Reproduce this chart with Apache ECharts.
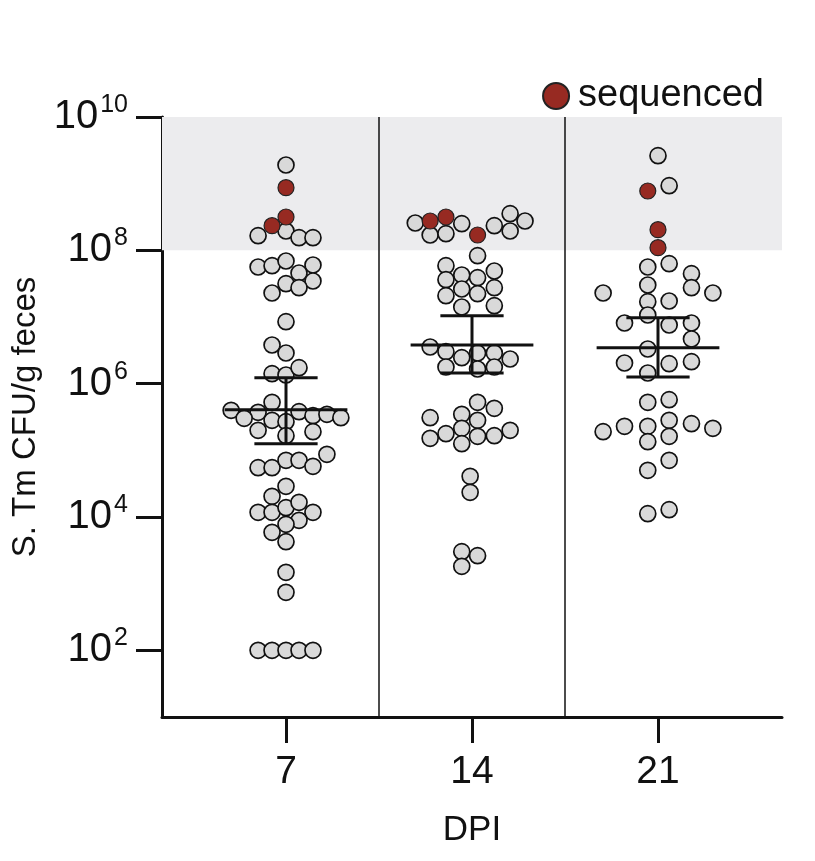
<!DOCTYPE html>
<html><head><meta charset="utf-8">
<script src="https://cdn.jsdelivr.net/npm/echarts@6/dist/echarts.min.js"></script>
<style>html,body{margin:0;padding:0;background:#fff}#c{width:815px;height:861px}</style>
</head><body><div id="c"></div>
<script>
const categories = ['7', '14', '21'];
// points: [jitter (category units), log10 CFU]
const grey7 = [[0,9.28],[-0.15,8.22],[0,8.29],[0.07,8.19],[0.145,8.19],
 [-0.15,7.75],[-0.075,7.77],[0,7.84],[0.145,7.78],[0.07,7.66],[0.145,7.54],[0,7.50],[0.07,7.44],[-0.075,7.36],
 [0,6.93],[-0.075,6.58],[0,6.46],[-0.075,6.15],[0,6.13],[0.07,6.24],[-0.075,5.72],
 [-0.295,5.60],[-0.15,5.57],[0.07,5.58],[-0.225,5.48],[-0.075,5.45],[0,5.43],[0.145,5.52],[0.22,5.54],[0.295,5.49],[-0.15,5.30],[0.145,5.28],[0,5.22],
 [-0.15,4.74],[-0.075,4.74],[0,4.85],[0.07,4.85],[0.145,4.76],[0.22,4.94],[0,4.46],[-0.075,4.31],
 [-0.15,4.07],[-0.075,4.07],[0,4.14],[0.07,4.22],[0.145,4.07],[0.07,3.95],[0,3.89],[-0.075,3.77],[0,3.63],
 [0,3.17],[0,2.87],[-0.15,2.0],[-0.075,2.0],[0,2.0],[0.07,2.0],[0.145,2.0]];
const red7 = [[0,8.94],[0,8.50],[-0.075,8.37]];
const grey14 = [[-0.305,8.41],[-0.225,8.23],[-0.14,8.25],[-0.055,8.40],[0.12,8.37],[0.205,8.55],[0.205,8.29],[0.285,8.44],
 [0.03,7.92],[-0.14,7.77],[-0.055,7.63],[0.03,7.59],[0.12,7.69],[-0.14,7.56],[-0.055,7.42],[0.12,7.44],[-0.14,7.32],[0.03,7.35],[-0.055,7.15],[0.12,7.17],
 [-0.225,6.55],[-0.14,6.48],[-0.055,6.39],[0.03,6.46],[0.12,6.46],[0.205,6.37],[-0.14,6.25],[0.03,6.22],[0.12,6.25],
 [0.03,5.72],[0.12,5.63],[-0.225,5.49],[-0.055,5.54],[0.03,5.45],[-0.055,5.33],[-0.225,5.18],[-0.14,5.25],[0.03,5.21],[0.12,5.22],[0.205,5.30],[-0.055,5.10],
 [-0.01,4.61],[-0.01,4.37],[-0.055,3.48],[0.03,3.42],[-0.055,3.26]];
const red14 = [[-0.225,8.44],[-0.14,8.50],[0.03,8.23]];
const grey21 = [[0,9.42],[0.06,8.97],
 [-0.055,7.75],[0.06,7.80],[0.18,7.65],[-0.055,7.48],[0.18,7.44],[-0.295,7.36],[0.295,7.36],[-0.055,7.23],[0.06,7.24],[-0.055,7.03],[-0.18,6.91],[0.06,6.88],[0.18,6.91],[0.18,6.67],[-0.055,6.52],[-0.18,6.31],[0.06,6.30],[0.18,6.33],[-0.055,6.16],
 [-0.055,5.72],[0.06,5.76],[-0.295,5.28],[-0.18,5.36],[-0.055,5.36],[0.06,5.45],[0.18,5.40],[0.295,5.33],[-0.055,5.13],[0.06,5.21],[0.06,4.85],[-0.055,4.70],
 [-0.055,4.05],[0.06,4.11]];
const red21 = [[-0.055,8.89],[0,8.31],[0,8.04]];
// mean and error range (log10)
const means = [5.61, 6.58, 6.54];
const errLow = [5.10, 6.16, 6.10];
const errHigh = [6.09, 7.02, 6.99];
const yTicks = [2, 4, 6, 8, 10];

const greys = [grey7, grey14, grey21];
const reds = [red7, red14, red21];
const toXY = (arr, i) => arr.map(p => [i + 1 + p[0], p[1]]);
const greyData = [].concat(...greys.map(toXY));
const redData = [].concat(...reds.map(toXY));
const meanData = means.map((m, i) => [i + 1, m, errLow[i], errHigh[i]]);

const font = 'Liberation Sans, Arial, sans-serif';
const chart = echarts.init(document.getElementById('c'));
chart.setOption({
  animation: false,
  grid: {left: 162, right: 33, top: 117, bottom: 144},
  legend: {data: [{name: 'sequenced'}], top: 72, right: 46, icon: 'circle', itemWidth: 26, itemHeight: 26, itemGap: 10,
    textStyle: {fontSize: 38, fontFamily: font, color: '#111', padding: [0, 0, 0, 4]}},
  xAxis: {type: 'value', min: 1/3, max: 11/3,
    name: 'DPI', nameLocation: 'middle', nameGap: 96, nameTextStyle: {fontSize: 35, fontFamily: font, color: '#111'},
    axisLine: {lineStyle: {color: '#111', width: 3}},
    axisTick: {customValues: [1, 2, 3], length: 26, lineStyle: {width: 3, color: '#111'}},
    axisLabel: {customValues: [1, 2, 3], margin: 36, fontSize: 39, fontFamily: font, color: '#111',
      formatter: v => categories[Math.round(v) - 1]},
    splitLine: {show: false}},
  yAxis: {type: 'value', min: 1, max: 10,
    name: 'S. Tm CFU/g feces', nameLocation: 'middle', nameGap: 116, nameTextStyle: {fontSize: 33, fontFamily: font, color: '#111'},
    axisLine: {lineStyle: {color: '#111', width: 3}},
    axisTick: {customValues: yTicks, length: 26, lineStyle: {width: 3, color: '#111'}},
    axisLabel: {customValues: yTicks, margin: 34, fontFamily: font, color: '#111',
      formatter: v => '{b|10}{s|' + v + '}',
      rich: {b: {fontSize: 40, fontFamily: font, color: '#111'}, s: {fontSize: 25, fontFamily: font, color: '#111', verticalAlign: 'top', padding: [0, 0, 24, 2]}}},
    splitLine: {show: false}},
  series: [
    {type: 'scatter', name: 'all', data: greyData, symbolSize: 16, z: 3,
      itemStyle: {color: '#d9d9d9', borderColor: '#111', borderWidth: 1.7, opacity: 1},
      markArea: {silent: true, itemStyle: {color: '#ececee'}, data: [[{yAxis: 8}, {yAxis: 10}]]},
      markLine: {silent: true, symbol: 'none', label: {show: false}, lineStyle: {color: '#111', width: 1.5, type: 'solid'},
        data: [{xAxis: 1.5}, {xAxis: 2.5}]}},
    {type: 'scatter', name: 'sequenced', data: redData, symbolSize: 16, z: 4,
      itemStyle: {color: '#972a22', borderColor: '#222', borderWidth: 1.2, opacity: 1}},
    {type: 'custom', name: 'mean', data: meanData, z: 5,
      renderItem: (params, api) => {
        const c = api.coord([api.value(0), api.value(1)]);
        const lo = api.coord([api.value(0), api.value(2)]);
        const hi = api.coord([api.value(0), api.value(3)]);
        const l = api.coord([api.value(0) - 0.33, 0])[0], r = api.coord([api.value(0) + 0.33, 0])[0];
        const cl = api.coord([api.value(0) - 0.17, 0])[0], cr = api.coord([api.value(0) + 0.17, 0])[0];
        const st = {stroke: '#111', lineWidth: 3};
        return {type: 'group', children: [
          {type: 'line', shape: {x1: l, y1: c[1], x2: r, y2: c[1]}, style: st},
          {type: 'line', shape: {x1: c[0], y1: lo[1], x2: c[0], y2: hi[1]}, style: st},
          {type: 'line', shape: {x1: cl, y1: lo[1], x2: cr, y2: lo[1]}, style: st},
          {type: 'line', shape: {x1: cl, y1: hi[1], x2: cr, y2: hi[1]}, style: st}
        ]};
      }}
  ]
});
</script></body></html>
